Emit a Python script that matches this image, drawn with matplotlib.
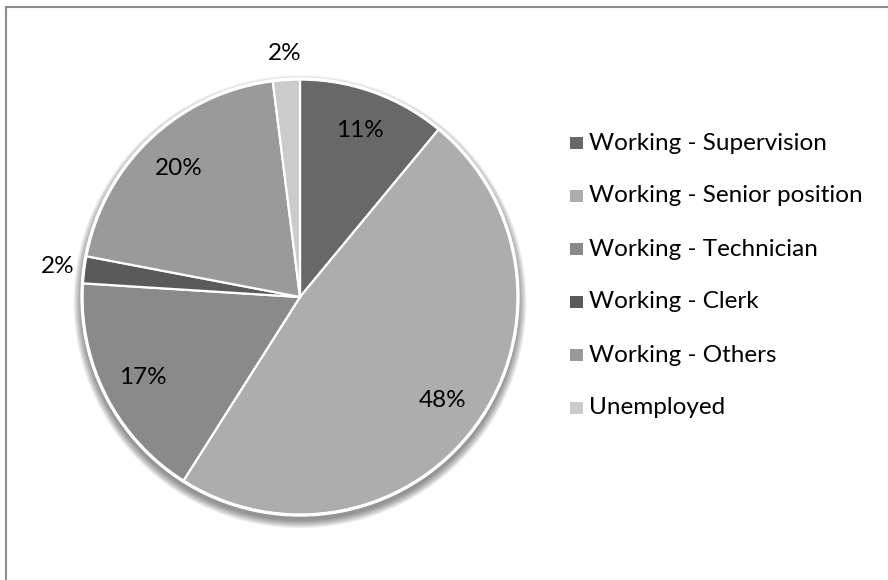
import numpy as np
import matplotlib
matplotlib.use("Agg")
import matplotlib.pyplot as plt
from matplotlib.patches import Rectangle, Circle
from matplotlib.lines import Line2D

categories = ["Working - Supervision", "Working - Senior position",
              "Working - Technician", "Working - Clerk",
              "Working - Others", "Unemployed"]
shares = [11, 48, 17, 2, 20, 2]
colors = ["#686868", "#adadad", "#8a8a8a", "#5a5a5a", "#9a9a9a", "#cbcbcb"]

plt.rcParams["font.family"] = ["Lato", "DejaVu Sans"]

W, H = 888, 580
fig = plt.figure(figsize=(W / 100, H / 100), dpi=100)
fig.patch.set_facecolor("white")

# pie axes: centre (300, 297) px from top-left, radius 218 px
cx, cy, r = 300, 297, 218
ax = fig.add_axes([(cx - r) / W, (H - cy - r) / H, 2 * r / W, 2 * r / H])

wedges, _ = ax.pie(shares, colors=colors, startangle=90, counterclock=False,
                   radius=1.0,
                   wedgeprops=dict(edgecolor="white", linewidth=1.6))
ax.set_xlim(-1, 1)
ax.set_ylim(-1, 1)
ax.set_aspect("equal")
ax.axis("off")

# soft drop shadow beneath the pie
n = 14
for i in range(n):
    rad = 1.0 + 0.0028 * (n - i)
    ax.add_patch(Circle((0.0, -0.022), rad, color="black", alpha=0.035,
                        lw=0, zorder=0, clip_on=False))
for w in wedges:
    w.set_zorder(2)
ax.add_patch(Circle((0, 0), 1.0, fill=False, ec="white", lw=2.4, zorder=3,
                    clip_on=False))

# percentage labels
for w, v in zip(wedges, shares):
    ang = np.deg2rad((w.theta1 + w.theta2) / 2)
    d = 1.12 if v < 5 else 0.81
    ax.text(d * np.cos(ang), d * np.sin(ang), f"{v}%", ha="center",
            va="center", fontsize=17.5, color="black", zorder=4,
            clip_on=False)

# legend on the right
lx, ly0, dy = 570, 143, 53
for i, (lab, col) in enumerate(zip(categories, colors)):
    y = ly0 + i * dy
    fig.patches.append(Rectangle((lx / W, (H - y - 6) / H), 12.5 / W, 12.5 / H,
                                 transform=fig.transFigure, fc=col, ec="none"))
    fig.text((lx + 19) / W, (H - y) / H, lab, ha="left", va="center",
             fontsize=17.5, color="black")

# frame lines along top and left
fig.add_artist(Line2D([6 / W, 1], [1 - 7 / H, 1 - 7 / H],
                      transform=fig.transFigure, color="#8c8c8c", lw=1.5))
fig.add_artist(Line2D([6 / W, 6 / W], [0, 1 - 7 / H],
                      transform=fig.transFigure, color="#8c8c8c", lw=1.5))

fig.savefig("out.png", dpi=100, facecolor="white")
